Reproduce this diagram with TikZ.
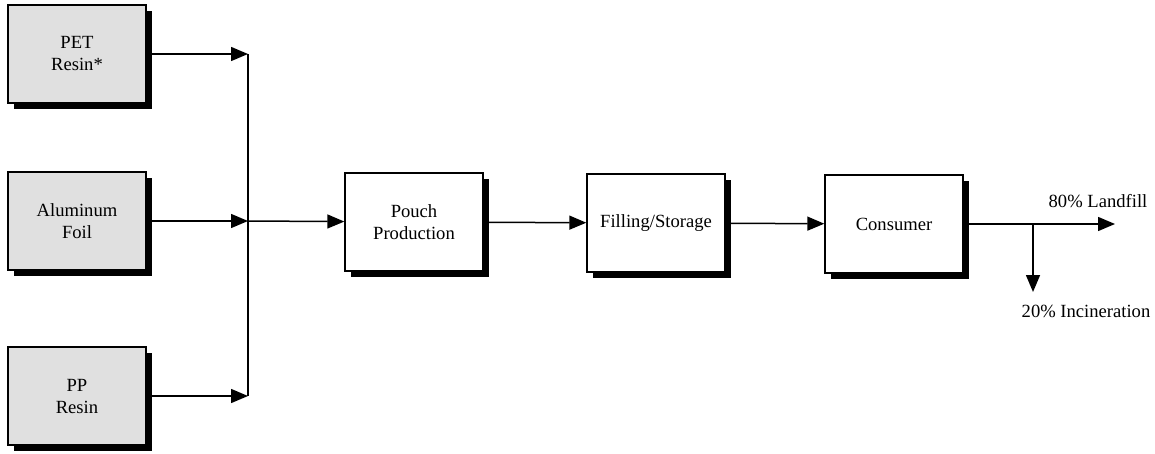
\documentclass[tikz,border=0pt]{standalone}
\usepackage{fontspec}
\setmainfont{Liberation Serif}
\usetikzlibrary{arrows.meta,positioning,shadows}
\definecolor{boxgray}{RGB}{224,224,224}

\begin{document}
\begin{tikzpicture}[x=0.5pt,y=-0.5pt,
		font=\fontsize{9.3}{11}\selectfont,
		box/.style={draw,line width=0.7pt,fill=white,align=center,
			minimum width=69pt,minimum height=49pt,
			drop shadow={shadow xshift=2.8pt,shadow yshift=-2.8pt,fill=black,opacity=1}},
		src/.style={box,fill=boxgray},
		flow/.style={line width=0.75pt,-{Triangle[length=8.5pt,width=7pt]}}]
		\useasboundingbox (0,0) rectangle (1155,454);
		% raw materials
		\node[src] (pet) at (77,54) {PET\\Resin*};
		\node[src] (alu) at (77,221) {Aluminum\\Foil};
		\node[src] (pp) at (77,396) {PP\\Resin};
		\coordinate (bus) at (248,221);
		% process chain
		\node[box] (pouch) at (414,222) {Pouch\\Production};
		\node[box] (store) at (656,223) {Filling/Storage};
		\node[box] (cons) at (894,224) {Consumer};
		
		\foreach \n in {pet,alu,pp}
		\draw[flow] (\n) -- (\n -| bus);
		\draw[line width=0.75pt] (pet -| bus) -- (pp -| bus);
		\draw[flow] (bus) -- (pouch);
		\draw[flow] (pouch) -- (store);
		\draw[flow] (store) -- (cons);
		
		% end of life
		\coordinate (split) at (1033,224);
		\coordinate (landfill) at (1115,224);
		\coordinate (incin) at (1033,292);
		\draw[flow] (cons) -- (landfill);
		\draw[flow] (split) -- (incin);
		\node (lfl) at (1098,201) {80\% Landfill};
		\node (inl) at (1086,311) {20\% Incineration};
	\end{tikzpicture}
\end{document}
